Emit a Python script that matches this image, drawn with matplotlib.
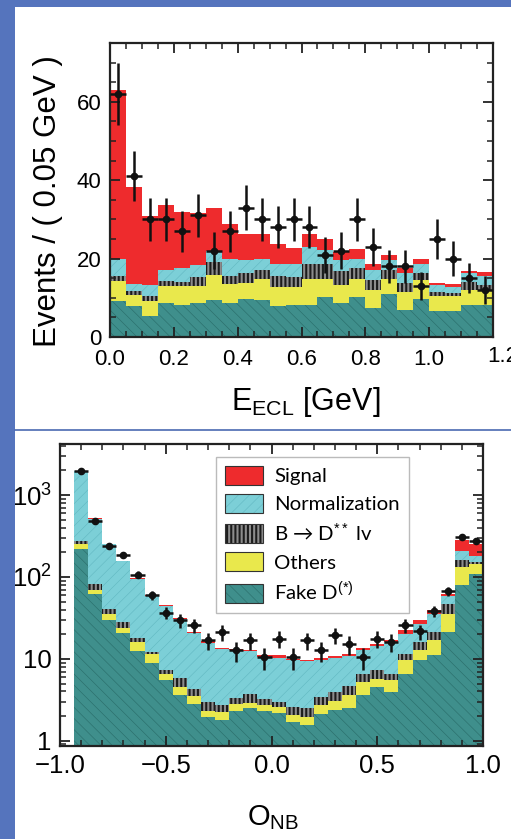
import numpy as np
import matplotlib
matplotlib.use("Agg")
import matplotlib.pyplot as plt
from matplotlib.patches import Rectangle, Patch
from matplotlib.lines import Line2D
from matplotlib.legend_handler import HandlerPatch
from matplotlib.ticker import MultipleLocator, FixedLocator, FixedFormatter, LogLocator, NullFormatter

plt.rcParams["font.family"] = ["Liberation Sans", "DejaVu Sans"]
plt.rcParams["mathtext.fontset"] = "custom"
plt.rcParams["mathtext.rm"] = "Liberation Sans"
plt.rcParams["mathtext.it"] = "Liberation Sans:italic"
plt.rcParams["hatch.linewidth"] = 0.45

# --- E_ECL distribution, 24 bins of 0.05 GeV ---
ecl_edges = np.linspace(0.0, 1.2, 25)
ecl_fake = [9.2, 7.9, 5.3, 8.7, 8.1, 8.6, 9.4, 8.7, 9.8, 9.4, 7.9, 8.1,
            8.1, 10.3, 8.6, 10.3, 7.3, 10.9, 7.0, 9.6, 6.7, 6.7, 8.1, 8.1]
ecl_others = [5.1, 2.8, 3.9, 4.3, 4.9, 4.4, 6.4, 4.8, 3.9, 5.5, 4.9, 4.7,
              6.8, 4.6, 4.6, 4.6, 4.7, 4.0, 4.5, 4.9, 3.7, 3.7, 3.9, 3.9]
ecl_dstst = [1.3, 1.0, 1.3, 1.3, 1.1, 2.2, 3.3, 2.1, 2.7, 2.3, 2.7, 2.5,
             3.8, 3.8, 3.7, 2.8, 2.5, 2.1, 2.3, 1.7, 1.1, 0.9, 2.1, 1.2]
ecl_norm = [4.4, 1.8, 2.7, 2.7, 3.4, 3.1, 2.8, 4.4, 3.2, 2.8, 3.2, 3.4,
            4.3, 3.4, 2.7, 2.3, 2.5, 2.6, 2.4, 2.5, 1.7, 1.5, 2.1, 2.3]
ecl_signal = [43.0, 24.7, 17.6, 16.8, 14.4, 13.3, 11.1, 8.7, 6.7, 6.3, 4.9, 4.0,
              3.4, 3.0, 2.1, 2.5, 1.6, 1.2, 1.3, 1.1, 0.6, 0.7, 0.6, 1.0]
ecl_data = [62, 41, 30, 30, 27, 31, 22, 27, 33, 30, 28, 30,
            28, 21, 22, 30, 23, 18, 18, 13, 25, 20, 15, 12]
ecl_ticks = [0.0, 0.2, 0.4, 0.6, 0.8, 1.0, 1.2]

# --- O_NB distribution, 30 bins over [-1, 1] ---
onb_edges = np.linspace(-1.0, 1.0, 31)
onb_fake = [0, 221, 62, 30, 20.6, 12.4, 8.9, 5.5, 3.6, 2.8, 1.95, 1.8, 2.3, 2.5, 2.3,
            2.2, 1.7, 1.55, 2.15, 2.35, 2.5, 3.6, 4.5, 3.9, 6.6, 9.8, 11, 21.2, 79, 109]
onb_others = [0, 33, 8, 5.6, 3.4, 3.6, 2.4, 1.0, 0.9, 0.7, 0.35, 0.45, 0.5, 0.4, 0.4,
              0.4, 0.35, 0.4, 0.55, 0.75, 1.1, 1.6, 1.2, 1.6, 3.0, 2.9, 5.8, 14.4, 55, 36]
onb_dstst = [0, 19, 11, 5.4, 4, 2.1, 0.7, 0.9, 1.3, 0.8, 0.7, 0.45, 0.5, 0.8, 0.5,
             0.4, 0.55, 0.55, 0.7, 0.8, 1.1, 1.4, 1.7, 1.1, 2.0, 3.3, 4.4, 11.4, 25, 7]
onb_norm = [0, 1677, 432, 208, 128, 75.9, 47, 36.6, 24.8, 16.3, 12.8, 10.5, 9.4, 8.8, 7.3,
            7.3, 7.0, 6.8, 6.4, 6.4, 6.0, 6.1, 6.8, 9.4, 8.3, 10.9, 14.4, 11.5, 48, 26]
onb_signal = [0, 10, 5, 3, 2, 3, 1, 1.8, 1.2, 0.6, 0.8, 0.5, 0.5, 0.4, 0.5,
              0.7, 0.4, 0.5, 0.5, 0.4, 0.7, 1.0, 0.8, 0.8, 2.4, 2.6, 3.4, 3.5, 77, 76]
onb_data = [0, 1950, 484, 238, 186, 107, 59.5, 36.6, 29.5, 25.6, 16.8, 21.2, 12.7, 16.8, 10.5,
            17.6, 10.5, 16.8, 12.7, 19.4, 15, 10.5, 17.6, 16, 25.6, 21.6, 38.3, 67, 306, 274]

# component styles: (label, face, hatch, hatch colour, hatch width)
STYLES = [
    ("Fake D$^{(*)}$", "#3f8f8c", "\\\\\\", "#2b6f6c", 0.45),
    ("Others", "#e9e84c", None, "#e9e84c", 0.45),
    (r"B → D$^{\mathrm{**}}$ lv", "#8c8c8c", "||||", "#1c1c1c", 1.5),
    ("Normalization", "#7ccfd7", "///", "#62b8c1", 0.4),
    ("Signal", "#ee2b2d", None, "#ee2b2d", 0.45),
]

BLUE = "#5574bd"


def with_hatch_width(p, hlw):
    # hatch width is a global rc setting, so set it around this patch's draw
    orig_draw = p.draw

    def draw(renderer):
        with plt.rc_context({"hatch.linewidth": hlw}):
            orig_draw(renderer)
    p.draw = draw
    if hasattr(p, "set_hatch_linewidth"):
        p.set_hatch_linewidth(hlw)


def style_patch(p, face, hatch, hcol, hlw):
    p.set_facecolor(face)
    p.set_edgecolor(hcol)
    p.set_linewidth(0)
    if hatch:
        p.set_hatch(hatch)
        with_hatch_width(p, hlw)


def draw_stack(ax, edges, comps):
    left = edges[:-1]
    width = np.diff(edges)
    bottom = np.zeros(len(left))
    for vals, (label, face, hatch, hcol, hlw) in zip(comps, STYLES):
        vals = np.asarray(vals, dtype=float)
        with plt.rc_context({"hatch.linewidth": hlw}):
            bars = ax.bar(left, vals, width=width, bottom=bottom, align="edge")
        for p in bars:
            style_patch(p, face, hatch, hcol, hlw)
        bottom = bottom + vals


def draw_data(ax, edges, counts):
    counts = np.asarray(counts, dtype=float)
    centers = 0.5 * (edges[:-1] + edges[1:])
    half = 0.5 * np.diff(edges)
    m = counts > 0
    ax.errorbar(centers[m], counts[m], xerr=half[m], yerr=np.sqrt(counts[m]),
                fmt="o", color="#111111", ms=4.5, elinewidth=1.8, capsize=0, zorder=5)


def frame(ax, size):
    for s in ax.spines.values():
        s.set_linewidth(1.6)
        s.set_color("#222222")
    ax.tick_params(which="both", direction="in", top=True, right=True,
                   color="#222222", labelsize=size, pad=6)
    ax.tick_params(which="major", length=7, width=1.3)
    ax.tick_params(which="minor", length=4, width=1.1)


class OutlinedKey(HandlerPatch):
    """Legend key box with a thin dark outline drawn on top."""

    def create_artists(self, legend, orig_handle, xdescent, ydescent,
                       width, height, fontsize, trans):
        arts = super().create_artists(legend, orig_handle, xdescent, ydescent,
                                      width, height, fontsize, trans)
        outline = Rectangle((-xdescent, -ydescent), width, height, facecolor="none",
                            edgecolor="#333333", linewidth=0.8, transform=trans)
        return arts + [outline]


fig = plt.figure(figsize=(5.11, 8.39), dpi=100, facecolor=BLUE)
fig.patches.append(Rectangle((15 / 511, 0), 1, 1 - 7 / 839, transform=fig.transFigure,
                             facecolor="white", edgecolor="none", zorder=-10))
fig.add_artist(Line2D([15 / 511, 1], [1 - 429.5 / 839] * 2, transform=fig.transFigure,
                      color="#4a6ab2", lw=1.2))

# upper panel
ax1 = fig.add_axes([110 / 511, 502 / 839, 383 / 511, 294 / 839])
draw_stack(ax1, ecl_edges, [ecl_fake, ecl_others, ecl_dstst, ecl_norm, ecl_signal])
draw_data(ax1, ecl_edges, ecl_data)
ax1.set_xlim(0, 1.2)
ax1.set_ylim(0, 75)
ax1.xaxis.set_major_locator(FixedLocator(ecl_ticks))
ax1.xaxis.set_minor_locator(MultipleLocator(0.05))
ax1.yaxis.set_major_locator(MultipleLocator(20))
ax1.yaxis.set_minor_locator(MultipleLocator(5))
# last label sits past the frame edge, drawn separately below
ax1.xaxis.set_major_formatter(FixedFormatter([f"{t:.1f}" for t in ecl_ticks[:-1]] + [""]))
frame(ax1, 16)
ax1.tick_params(axis="x", pad=8.5)
fig.text(503 / 511, 1 - 357 / 839, f"{ecl_ticks[-1]:.1f}", ha="center", va="center", fontsize=16)
fig.text(48 / 511, 1 - 201 / 839, "Events / ( 0.05 GeV )", rotation=90,
         ha="center", va="center", fontsize=22.5)
fig.text(306 / 511, 1 - 410 / 839, r"E$_{\mathrm{ECL}}$ [GeV]",
         ha="center", va="baseline", fontsize=22)

# lower panel
ax2 = fig.add_axes([60 / 511, 93.3 / 839, 423 / 511, 301.7 / 839])
ax2.set_yscale("log")
draw_stack(ax2, onb_edges, [onb_fake, onb_others, onb_dstst, onb_norm, onb_signal])
draw_data(ax2, onb_edges, onb_data)
ax2.set_xlim(-1, 1)
ax2.set_ylim(0.87, 4200)
ax2.xaxis.set_major_locator(MultipleLocator(0.5))
ax2.xaxis.set_minor_locator(MultipleLocator(0.1))
ax2.xaxis.set_major_formatter(matplotlib.ticker.FuncFormatter(
    lambda v, _: f"{v:.1f}".replace("-", "\u2212")))
ax2.yaxis.set_major_locator(FixedLocator([1, 10, 100, 1000]))
ax2.yaxis.set_major_formatter(FixedFormatter(["1", "10", "$10^2$", "$10^3$"]))
ax2.yaxis.set_minor_locator(LogLocator(base=10, subs=np.arange(2, 10)))
ax2.yaxis.set_minor_formatter(NullFormatter())
frame(ax2, 18.5)
fig.text(273 / 511, 1 - 825 / 839, r"O$_{\mathrm{NB}}$",
         ha="center", va="baseline", fontsize=21)

handles = []
for label, face, hatch, hcol, hlw in reversed(STYLES):
    handles.append(Patch(facecolor=face, edgecolor=hcol, hatch=hatch, linewidth=0, label=label))
leg = ax2.legend(handles=handles, loc="upper left",
                 bbox_to_anchor=(216 / 511, 1 - 456.7 / 839), bbox_transform=fig.transFigure,
                 borderaxespad=0, fancybox=False, framealpha=1, edgecolor="#bbbbbb",
                 prop={"family": ["Lato", "DejaVu Sans"], "size": 14.7},
                 handlelength=1.85, handleheight=1.05, handletextpad=0.55,
                 labelspacing=0.42, borderpad=0.45,
                 handler_map={Patch: OutlinedKey()})
leg.get_frame().set_linewidth(1.0)
for h, (label, face, hatch, hcol, hlw) in zip(leg.legend_handles, reversed(STYLES)):
    if hatch:
        with_hatch_width(h, hlw)

fig.savefig("out.png", dpi=100, facecolor=BLUE)
